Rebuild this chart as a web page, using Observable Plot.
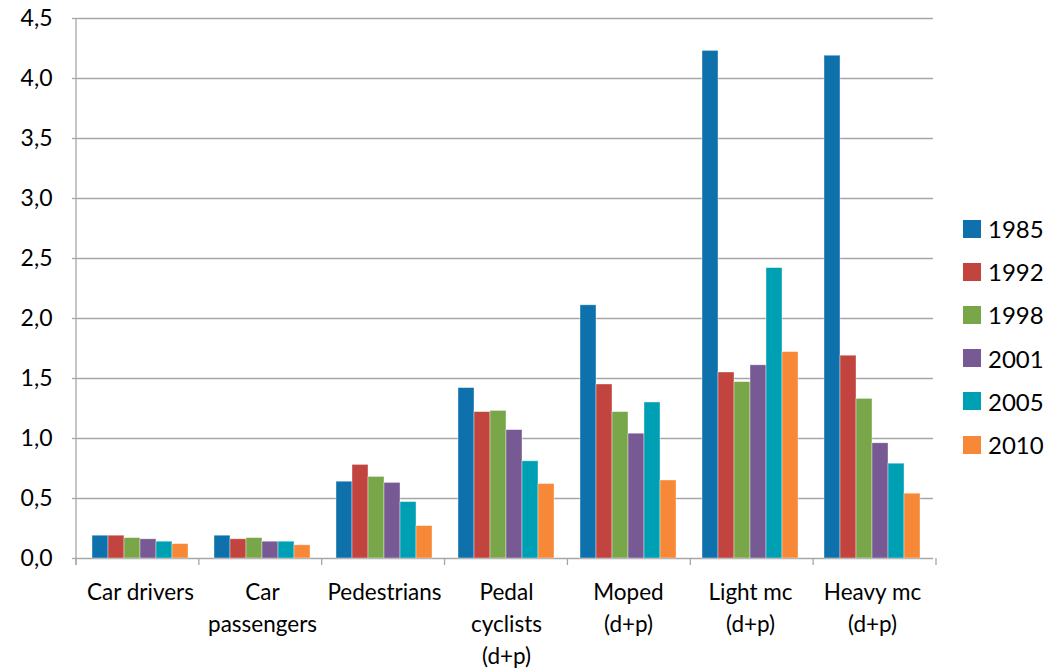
<!DOCTYPE html>
<html>
<head>
<meta charset="utf-8">
<script src="https://cdn.jsdelivr.net/npm/d3@7"></script>
<script src="https://cdn.jsdelivr.net/npm/@observablehq/plot@0.6"></script>
<style>
  html, body { margin: 0; padding: 0; background: #fff; }
  #wrap { position: relative; width: 1050px; height: 671px; font-family: Lato, "Open Sans", sans-serif; }
  #legend { position: absolute; left: 963px; top: 207px; }
  .item { display: flex; align-items: center; height: 43.2px; font-size: 24px; color: #000; }
  .sw { width: 18px; height: 18px; margin-right: 7px; }
</style>
</head>
<body>
<div id="wrap"><div id="chart"></div><div id="legend"></div></div>
<script>
const categories = ["Car drivers", "Car\npassengers", "Pedestrians", "Pedal\ncyclists\n(d+p)", "Moped\n(d+p)", "Light mc\n(d+p)", "Heavy mc\n(d+p)"];
const years = ["1985", "1992", "1998", "2001", "2005", "2010"];
const colors = ["#0f71ab", "#c1443f", "#7aa64a", "#775a93", "#00a0b4", "#f68837"];
const v1985 = [0.19, 0.19, 0.64, 1.42, 2.11, 4.23, 4.19];
const v1992 = [0.19, 0.16, 0.78, 1.22, 1.45, 1.55, 1.69];
const v1998 = [0.17, 0.17, 0.68, 1.23, 1.22, 1.47, 1.33];
const v2001 = [0.16, 0.14, 0.63, 1.07, 1.04, 1.61, 0.96];
const v2005 = [0.14, 0.14, 0.47, 0.81, 1.30, 2.42, 0.79];
const v2010 = [0.12, 0.11, 0.27, 0.62, 0.65, 1.72, 0.54];
const yTicks = [0, 0.5, 1, 1.5, 2, 2.5, 3, 3.5, 4, 4.5];

const series = [v1985, v1992, v1998, v2001, v2005, v2010];
const data = [];
categories.forEach((c, i) => years.forEach((y, j) => data.push({category: c, year: y, value: series[j][i]})));

const fmt = d => d3.format(".1f")(d).replace(".", ",");
const FONT = 22.5;
const AXIS = "#a6a6a6";

const plot = Plot.plot({
  width: 950,
  height: 671,
  marginLeft: 76,
  marginRight: 14,
  marginTop: 18,
  marginBottom: 113,
  style: {fontFamily: "Lato, 'Open Sans', sans-serif", fontSize: FONT + "px", color: "#000", background: "#fff"},
  fx: {domain: categories, padding: 0, label: null},
  x: {domain: years, paddingInner: 0, paddingOuter: 0.71, axis: null},
  y: {domain: [0, 4.5], label: null},
  color: {domain: years, range: colors},
  marks: [
    Plot.gridY(yTicks, {stroke: AXIS, strokeOpacity: 1, strokeWidth: 1.3}),
    Plot.barY(data, {fx: "category", x: "year", y: "value", fill: "year", stroke: "#ffffff", strokeOpacity: 0.55, strokeWidth: 0.7}),
    Plot.axisY(yTicks, {tickFormat: fmt, tickSize: 7, tickPadding: 20, stroke: AXIS, strokeWidth: 1.3, fontSize: 23, label: null}),
    Plot.axisFx({anchor: "bottom", tickSize: 0, tickPadding: 19, lineHeight: 1.42, fontSize: FONT, label: null})
  ]
});
document.getElementById("chart").appendChild(plot);

// axis line and group-boundary ticks, positioned from the plot's own scales
const fxS = plot.scale("fx"), yS = plot.scale("y");
const fx = d3.scaleBand(fxS.domain, fxS.range).paddingInner(fxS.paddingInner || 0).paddingOuter(fxS.paddingOuter || 0).align(fxS.align ?? 0.5);
const y = d3.scaleLinear(yS.domain, yS.range);
const svg = d3.select(plot.tagName.toLowerCase() === "svg" ? plot : plot.querySelector("svg"));
const g = svg.append("g").attr("stroke", AXIS).attr("stroke-width", 1.3);
const left = fx(categories[0]);
g.append("line").attr("x1", left).attr("x2", left).attr("y1", y(4.5)).attr("y2", y(0) + 7);
const bounds = categories.map(c => fx(c)).concat([fx(categories[categories.length - 1]) + fx.step()]);
bounds.forEach(b => g.append("line").attr("x1", b).attr("x2", b).attr("y1", y(0)).attr("y2", y(0) + 7));

const legend = document.getElementById("legend");
years.forEach((yr, i) => {
  const d = document.createElement("div");
  d.className = "item";
  d.innerHTML = `<span class="sw" style="background:${colors[i]}"></span><span>${yr}</span>`;
  legend.appendChild(d);
});
</script>
</body>
</html>
